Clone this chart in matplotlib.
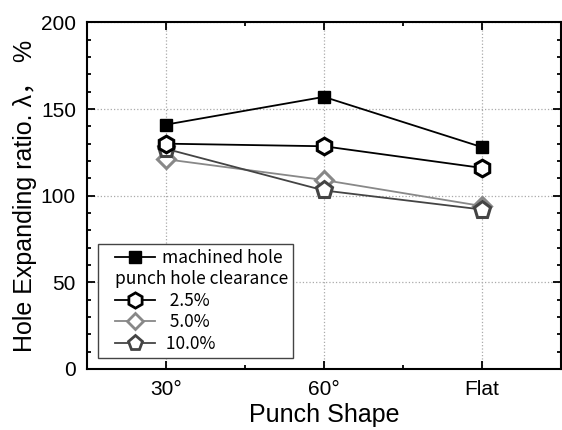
import matplotlib
matplotlib.use("Agg")
import matplotlib.pyplot as plt
from matplotlib.lines import Line2D
from matplotlib.legend_handler import HandlerLine2D
from matplotlib.ticker import MultipleLocator

plt.rcParams['font.family'] = ['Liberation Sans', 'Noto Sans CJK JP']

shapes = ["30°", "60°", "Flat"]
machined = [141, 157, 128]
clear_25 = [130, 128.5, 116]
clear_50 = [121, 109, 94]
clear_100 = [127, 103, 92]

fig = plt.figure(figsize=(5.62, 4.30), dpi=100)
ax = fig.add_axes([0.155, 0.142, 0.843, 0.806])

x = range(len(shapes))
ax.plot(x, machined, color="black", lw=1.3, marker="s", ms=9,
        mfc="black", mec="black", zorder=5)
ax.plot(x, clear_25, color="black", lw=1.3, marker="h", ms=12,
        mfc="white", mec="black", mew=2.2, zorder=4)
ax.plot(x, clear_50, color="#888888", lw=1.3, marker="D", ms=9.5,
        mfc="white", mec="#888888", mew=2.2, zorder=3)
ax.plot(x, clear_100, color="#444444", lw=1.3, marker="p", ms=12.5,
        mfc="white", mec="#444444", mew=2.2, zorder=3)

ax.set_xlim(-0.5, 2.5)
ax.set_ylim(0, 200)
ax.set_xticks(list(x))
ax.set_xticklabels(shapes)
ax.xaxis.set_minor_locator(MultipleLocator(0.5))
ax.yaxis.set_major_locator(MultipleLocator(50))
ax.yaxis.set_minor_locator(MultipleLocator(10))
ax.tick_params(which="both", direction="in", top=True, right=True,
               width=1.3, labelsize=15, pad=8)
ax.tick_params(which="major", length=6)
ax.tick_params(which="minor", length=3)
ax.grid(True, which="major", color="#aaaaaa", ls=":", lw=0.9)
for s in ax.spines.values():
    s.set_linewidth(1.5)

ax.set_xlabel("Punch Shape", fontsize=18, labelpad=3)
ax.set_ylabel("Hole Expanding ratio. λ， %", fontsize=18, labelpad=3)

handles = [
    Line2D([], [], color="black", lw=1.3, marker="s", ms=9, mfc="black"),
    Line2D([], [], color="none"),
    Line2D([], [], color="black", lw=1.3, marker="h", ms=11, mfc="white", mew=2),
    Line2D([], [], color="#888888", lw=1.3, marker="D", ms=8.5, mfc="white", mew=2),
    Line2D([], [], color="#444444", lw=1.3, marker="p", ms=11, mfc="white", mew=2),
]
labels = ["machined hole", " ", "  2.5%", "  5.0%", " 10.0%"]
leg = ax.legend(handles, labels, loc="lower left",
                bbox_to_anchor=(0.023, 0.032, 0.411, 0.3), mode="expand",
                fancybox=False, edgecolor="#444444", framealpha=1,
                prop={"family": ["Noto Sans CJK JP"], "size": 12.5},
                labelspacing=0.2, handlelength=3.0, handletextpad=0.4,
                borderpad=0.3, borderaxespad=0,
                handler_map={Line2D: HandlerLine2D(xpad=0.7)})
leg.get_frame().set_linewidth(1.0)

fig.canvas.draw()
inv = fig.transFigure.inverted()
line0 = leg.legend_handles[0]
xs = line0.get_xdata()
x0 = line0.get_transform().transform([[xs[0], 0]])[0][0]
t1 = leg.get_texts()[1].get_window_extent()
px, py = inv.transform((x0, (t1.y0 + t1.y1) / 2))
fig.text(px, py, "punch hole clearance", ha="left", va="center",
         family=["Noto Sans CJK JP"], fontsize=12.5, zorder=10)

fig.savefig("out.png", dpi=100)
